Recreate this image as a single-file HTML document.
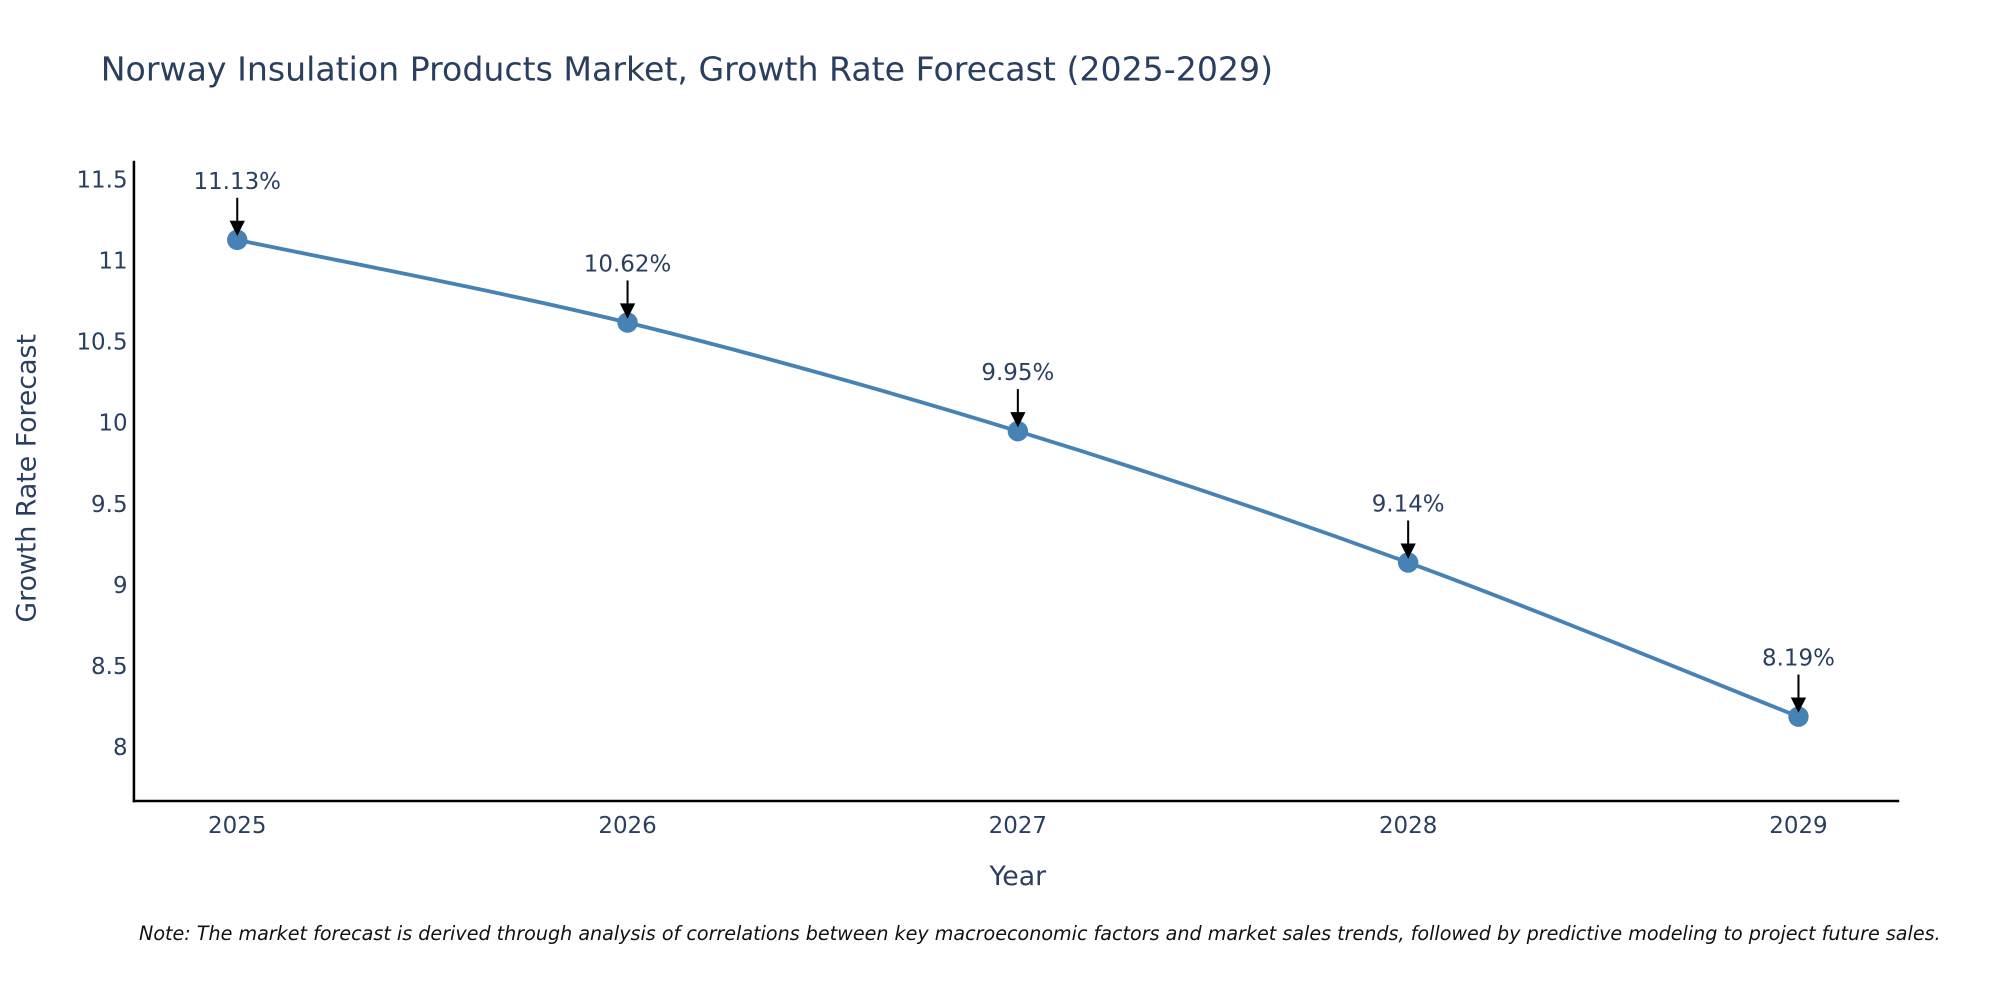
<!DOCTYPE html>
<html><head><meta charset="utf-8"><style>
html,body{margin:0;padding:0;background:#fff;}
svg{display:block;font-family:"DejaVu Sans","Liberation Sans",sans-serif;}
</style></head><body>
<svg id="chart" width="2000" height="1000" viewBox="0 0 1568 784">
<text x="79" y="63" font-size="26" fill="#2a3f5f">Norway Insulation Products Market, Growth Rate Forecast (2025-2029)</text>
<g id="yticks"></g>
<g id="xticks"></g>
<line x1="105" y1="126" x2="105" y2="629" stroke="#000" stroke-width="2"/>
<line x1="104" y1="628" x2="1489" y2="628" stroke="#000" stroke-width="2"/>
<text transform="translate(28,375) rotate(-90)" text-anchor="middle" font-size="21" fill="#2a3f5f">Growth Rate Forecast</text>
<text x="798" y="694" text-anchor="middle" font-size="21" fill="#2a3f5f">Year</text>
<g id="series"></g>
<text x="109" y="737" font-size="15" font-style="italic" fill="#111">Note: The market forecast is derived through analysis of correlations between key macroeconomic factors and market sales trends, followed by predictive modeling to project future sales.</text>
</svg>
<script>
const years = [2025, 2026, 2027, 2028, 2029];
const growth = [11.13, 10.62, 9.95, 9.14, 8.19];
const yTicks = [8, 8.5, 9, 9.5, 10, 10.5, 11, 11.5];
const NS = "http://www.w3.org/2000/svg";
function xS(v){ return 186 + (v - 2025) * 306; }
function yS(v){ return 586 - (v - 8) * 127.14; }
function mk(tag, attrs, parent){ const e = document.createElementNS(NS, tag); for (const k in attrs) e.setAttribute(k, attrs[k]); parent.appendChild(e); return e; }
const yg = document.getElementById('yticks');
yTicks.forEach(t => {
  const e = mk('text', {x: 100, y: yS(t) + 6, 'text-anchor': 'end', 'font-size': 18, fill: '#2a3f5f'}, yg);
  e.textContent = String(t);
  
  
});
const xg = document.getElementById('xticks');
years.forEach(y => {
  const e = mk('text', {x: xS(y), y: 653, 'text-anchor': 'middle', 'font-size': 18, fill: '#2a3f5f'}, xg);
  e.textContent = String(y);
  
  
});
const sg = document.getElementById('series');
const pts = years.map((y, i) => [xS(y), yS(growth[i])]);
let d = 'M' + pts[0][0] + ',' + pts[0][1];
const tension = 0.5 / 3;
for (let i = 0; i < pts.length - 1; i++) {
  const p0 = pts[Math.max(0, i - 1)], p1 = pts[i], p2 = pts[i + 1], p3 = pts[Math.min(pts.length - 1, i + 2)];
  const c1 = [p1[0] + (p2[0] - p0[0]) * tension, p1[1] + (p2[1] - p0[1]) * tension];
  const c2 = [p2[0] - (p3[0] - p1[0]) * tension, p2[1] - (p3[1] - p1[1]) * tension];
  d += ' C' + c1.join(',') + ' ' + c2.join(',') + ' ' + p2.join(',');
}
const line = mk('path', {d: d, fill: 'none', stroke: '#4682b4', 'stroke-width': 3}, sg);


pts.forEach((p, i) => {
  const c = mk('circle', {cx: p[0], cy: p[1], r: 8, fill: '#4682b4'}, sg);
  
  
  const a = mk('line', {x1: p[0], y1: p[1] - 33, x2: p[0], y2: p[1] - 14, stroke: '#000', 'stroke-width': 1.6}, sg);
  
  
  const h = mk('polygon', {points: (p[0]-6)+','+(p[1]-15)+' '+(p[0]+6)+','+(p[1]-15)+' '+p[0]+','+(p[1]-3), fill: '#000'}, sg);
  
  
  const t = mk('text', {x: p[0], y: p[1] - 40, 'text-anchor': 'middle', 'font-size': 18, fill: '#2a3f5f'}, sg);
  t.textContent = growth[i].toFixed(2) + '%';
  
  
});
</script>
</body></html>
